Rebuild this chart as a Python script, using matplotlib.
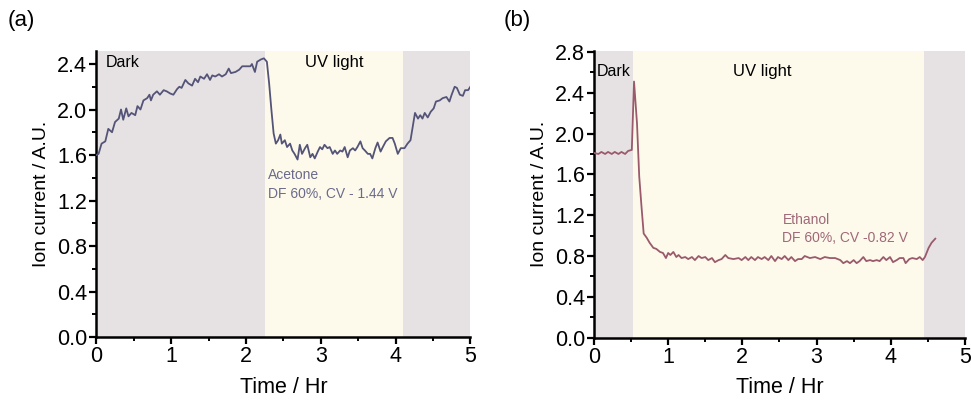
import matplotlib
matplotlib.use("Agg")
import matplotlib.pyplot as plt
from matplotlib.ticker import MultipleLocator

plt.rcParams["font.family"] = ["Liberation Sans", "DejaVu Sans"]

# Panel (a): acetone
t_a = [0.00, 0.03, 0.07, 0.12, 0.16, 0.21, 0.25, 0.30, 0.33, 0.36, 0.40, 0.43, 0.47, 0.52,
       0.55, 0.59, 0.63, 0.68, 0.71, 0.73, 0.76, 0.81, 0.85, 0.90, 0.94, 0.99, 1.03, 1.08,
       1.11, 1.14, 1.19, 1.23, 1.28, 1.32, 1.36, 1.39, 1.44, 1.48, 1.52, 1.55, 1.59, 1.64,
       1.68, 1.73, 1.77, 1.80, 1.86, 1.91, 1.95, 2.02, 2.06, 2.08, 2.12, 2.15, 2.20, 2.24,
       2.28, 2.31, 2.34, 2.37, 2.40, 2.43, 2.46, 2.48, 2.52, 2.55, 2.59, 2.62, 2.65, 2.69,
       2.72, 2.75, 2.79, 2.82, 2.86, 2.89, 2.92, 2.96, 2.99, 3.02, 3.05, 3.09, 3.12, 3.16,
       3.19, 3.22, 3.26, 3.29, 3.32, 3.36, 3.39, 3.43, 3.46, 3.49, 3.53, 3.56, 3.59, 3.63,
       3.66, 3.69, 3.73, 3.76, 3.80, 3.83, 3.87, 3.92, 3.96, 3.99, 4.03, 4.07, 4.12, 4.16,
       4.20, 4.23, 4.26, 4.30, 4.33, 4.36, 4.39, 4.43, 4.47, 4.51, 4.54, 4.59, 4.63, 4.68,
       4.72, 4.75, 4.79, 4.82, 4.86, 4.90, 4.93, 4.97, 5.00]
i_a = [1.60, 1.61, 1.70, 1.72, 1.83, 1.80, 1.89, 1.92, 2.00, 1.91, 2.01, 1.94, 1.97, 1.95,
       2.03, 2.00, 2.08, 2.10, 2.13, 2.08, 2.13, 2.16, 2.13, 2.17, 2.16, 2.14, 2.13, 2.18,
       2.20, 2.19, 2.26, 2.23, 2.21, 2.27, 2.24, 2.29, 2.27, 2.31, 2.26, 2.30, 2.29, 2.31,
       2.29, 2.31, 2.36, 2.32, 2.33, 2.35, 2.38, 2.38, 2.38, 2.40, 2.33, 2.42, 2.44, 2.45,
       2.42, 2.23, 2.00, 1.79, 1.70, 1.73, 1.78, 1.70, 1.73, 1.67, 1.70, 1.64, 1.61, 1.56,
       1.69, 1.61, 1.66, 1.69, 1.58, 1.61, 1.57, 1.63, 1.67, 1.65, 1.69, 1.66, 1.67, 1.61,
       1.64, 1.61, 1.64, 1.63, 1.67, 1.58, 1.64, 1.66, 1.64, 1.67, 1.72, 1.66, 1.64, 1.61,
       1.61, 1.57, 1.66, 1.71, 1.63, 1.67, 1.72, 1.75, 1.75, 1.70, 1.61, 1.66, 1.66, 1.70,
       1.73, 1.85, 1.97, 1.92, 1.95, 1.92, 1.97, 1.93, 1.98, 2.01, 2.07, 2.08, 2.10, 2.11,
       2.07, 2.13, 2.20, 2.19, 2.13, 2.12, 2.17, 2.17, 2.20]

# Panel (b): ethanol
t_b = [0.00, 0.06, 0.10, 0.15, 0.19, 0.24, 0.28, 0.33, 0.37, 0.42, 0.46, 0.51, 0.54, 0.58,
       0.61, 0.64, 0.67, 0.71, 0.75, 0.80, 0.84, 0.89, 0.93, 0.97, 1.00, 1.03, 1.07, 1.11,
       1.14, 1.18, 1.23, 1.27, 1.32, 1.36, 1.41, 1.45, 1.50, 1.54, 1.59, 1.63, 1.68, 1.72,
       1.77, 1.81, 1.88, 1.95, 1.99, 2.04, 2.08, 2.12, 2.17, 2.21, 2.26, 2.30, 2.35, 2.39,
       2.44, 2.48, 2.53, 2.57, 2.62, 2.66, 2.71, 2.75, 2.80, 2.84, 2.91, 2.98, 3.05, 3.11,
       3.18, 3.25, 3.32, 3.36, 3.41, 3.45, 3.50, 3.54, 3.58, 3.63, 3.67, 3.72, 3.76, 3.81,
       3.85, 3.90, 3.94, 3.99, 4.03, 4.08, 4.12, 4.17, 4.20, 4.25, 4.29, 4.35, 4.39, 4.43,
       4.46, 4.51, 4.55, 4.60]
i_b = [1.81, 1.80, 1.82, 1.80, 1.82, 1.80, 1.82, 1.80, 1.82, 1.80, 1.83, 1.84, 2.51, 2.10,
       1.58, 1.29, 1.02, 0.98, 0.93, 0.88, 0.87, 0.84, 0.83, 0.78, 0.83, 0.81, 0.84, 0.79,
       0.81, 0.78, 0.79, 0.77, 0.79, 0.76, 0.80, 0.78, 0.79, 0.76, 0.78, 0.74, 0.76, 0.77,
       0.81, 0.78, 0.77, 0.78, 0.76, 0.79, 0.76, 0.79, 0.76, 0.79, 0.77, 0.79, 0.76, 0.80,
       0.75, 0.79, 0.77, 0.80, 0.76, 0.79, 0.75, 0.77, 0.77, 0.80, 0.78, 0.79, 0.77, 0.79,
       0.78, 0.78, 0.76, 0.73, 0.75, 0.73, 0.76, 0.73, 0.75, 0.79, 0.75, 0.76, 0.75, 0.76,
       0.75, 0.79, 0.76, 0.79, 0.74, 0.76, 0.78, 0.78, 0.73, 0.77, 0.78, 0.77, 0.79, 0.76,
       0.79, 0.88, 0.93, 0.97]

# (start, end, kind) of the dark / UV periods
periods_a = [(0.0, 2.26, "dark"), (2.26, 4.10, "uv"), (4.10, 5.0, "dark")]
periods_b = [(0.0, 0.52, "dark"), (0.52, 4.45, "uv"), (4.45, 5.0, "dark")]
SHADE = {"dark": "#e6e2e3", "uv": "#fdfaec"}

fig = plt.figure(figsize=(9.71, 4.01), dpi=100)
ax_a = fig.add_axes([0.0992, 0.1596, 0.3852, 0.7134])
ax_b = fig.add_axes([0.6117, 0.1580, 0.3821, 0.7150])


def style_axis(ax, ytop, ystep):
    ax.set_xlim(0, 5)
    ax.set_ylim(0, ytop)
    ax.xaxis.set_major_locator(MultipleLocator(1))
    ax.xaxis.set_minor_locator(MultipleLocator(0.5))
    ax.yaxis.set_major_locator(MultipleLocator(ystep))
    ax.yaxis.set_minor_locator(MultipleLocator(ystep / 2))
    ax.yaxis.set_major_formatter(lambda v, p: f"{v:.1f}")
    for s in ("top", "right"):
        ax.spines[s].set_visible(False)
    for s in ("left", "bottom"):
        ax.spines[s].set_linewidth(1.8)
    ax.tick_params(which="major", direction="out", length=5, width=1.6, labelsize=15.5, pad=1.5)
    ax.tick_params(which="minor", direction="out", length=3, width=1.4)
    ax.set_xlabel("Time / Hr", fontsize=15.5, labelpad=7)
    ax.set_ylabel("Ion current / A.U.", fontsize=14, labelpad=5)


for ax, periods in ((ax_a, periods_a), (ax_b, periods_b)):
    for x0, x1, kind in periods:
        ax.axvspan(x0, x1, color=SHADE[kind], lw=0, zorder=0)

ax_a.plot(t_a, i_a, color="#545478", lw=1.3, zorder=3)
ax_b.plot(t_b, i_b, color="#9a5a6c", lw=1.3, zorder=3)

style_axis(ax_a, 2.515, 0.4)
style_axis(ax_b, 2.81, 0.4)

ax_a.text(0.12, 2.415, "Dark", fontsize=11.5, va="center", ha="left")
ax_a.text(3.18, 2.41, "UV light", fontsize=12, va="center", ha="center")
ax_a.text(2.3, 1.42, "Acetone", fontsize=10, color="#6a6a8c", va="center")
ax_a.text(2.3, 1.26, "DF 60%, CV - 1.44 V", fontsize=10, color="#6a6a8c", va="center")

ax_b.text(0.04, 2.61, "Dark", fontsize=11.5, va="center", ha="left")
ax_b.text(2.27, 2.61, "UV light", fontsize=12, va="center", ha="center")
ax_b.text(2.54, 1.15, "Ethanol", fontsize=10, color="#a06878", va="center")
ax_b.text(2.54, 0.98, "DF 60%, CV -0.82 V", fontsize=10, color="#a06878", va="center")

fig.text(0.008, 0.95, "(a)", fontsize=16, va="center", ha="left")
fig.text(0.519, 0.95, "(b)", fontsize=16, va="center", ha="left")

fig.savefig("out.png", dpi=100)
